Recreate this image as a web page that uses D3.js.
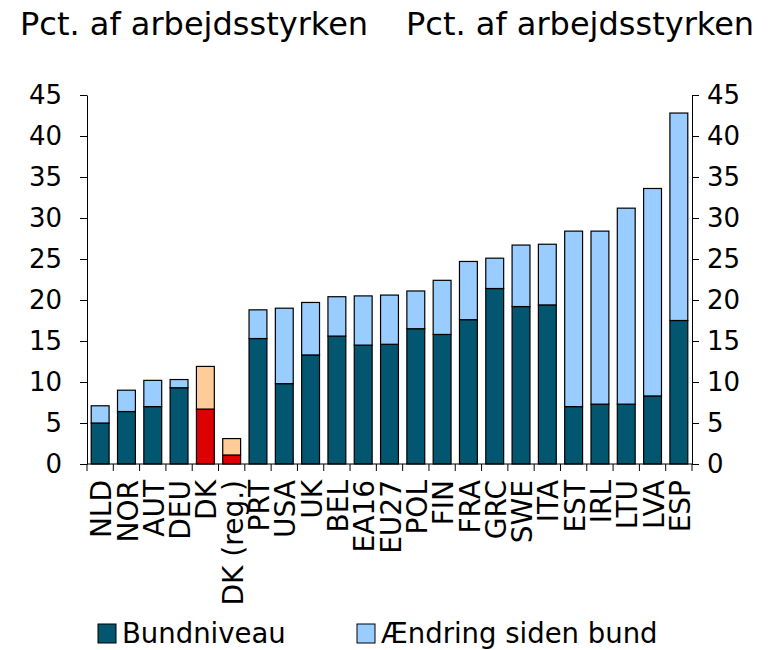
<!DOCTYPE html>
<html>
<head>
<meta charset="utf-8">
<script src="https://cdn.jsdelivr.net/npm/d3@7"></script>
<style>
  body { margin: 0; background: #fff; }
  svg { display: block; font-family: "DejaVu Sans", Verdana, sans-serif; }
</style>
</head>
<body>
<div id="chart"></div>
<script>
// categories and values
const categories = ["NLD", "NOR", "AUT", "DEU", "DK", "DK (reg.)", "PRT", "USA", "UK", "BEL",
    "EA16", "EU27", "POL", "FIN", "FRA", "GRC", "SWE", "ITA", "EST", "IRL", "LTU", "LVA", "ESP"];
const bundniveau = [5.0, 6.4, 7.0, 9.3, 6.7, 1.1, 15.3, 9.8, 13.3, 15.6,
    14.5, 14.6, 16.5, 15.8, 17.6, 21.4, 19.2, 19.4, 7.0, 7.3, 7.3, 8.3, 17.5];
const aendring = [2.1, 2.6, 3.2, 1.0, 5.2, 2.0, 3.5, 9.2, 6.4, 4.8,
    6.0, 6.0, 4.6, 6.6, 7.1, 3.7, 7.5, 7.4, 21.4, 21.1, 23.9, 25.3, 25.3];
const yTicks = [0, 5, 10, 15, 20, 25, 30, 35, 40, 45];
const highlighted = ["DK", "DK (reg.)"];

const width = 771;
const height = 650;
const marginLeft = 87;
const plotRight = 692;
const plotTop = 95;
const plotBottom = 464;

const colors = {
    bund: "#02566F",
    aendring: "#99CCFF",
    bundDK: "#DD0000",
    aendringDK: "#FFCC99"
};

const rows = categories.map((c, i) => ({ cat: c, bund: bundniveau[i], aendring: aendring[i] }));
const series = d3.stack().keys(["bund", "aendring"])(rows);

const x = d3.scaleBand()
    .domain(categories)
    .range([marginLeft, plotRight])
    .paddingInner(0.32)
    .paddingOuter(0.16);

const y = d3.scaleLinear()
    .domain([0, 45])
    .range([plotBottom, plotTop]);

const svg = d3.select("#chart").append("svg")
    .attr("width", width)
    .attr("height", height);

// titles over both axes
svg.append("text")
    .attr("x", 20).attr("y", 35)
    .attr("font-size", 32)
    .text("Pct. af arbejdsstyrken");
svg.append("text")
    .attr("x", 406).attr("y", 35)
    .attr("font-size", 32)
    .text("Pct. af arbejdsstyrken");

// bars
svg.append("g")
    .selectAll("g")
    .data(series)
    .join("g")
    .selectAll("rect")
    .data(s => s.map(d => ({ key: s.key, d })))
    .join("rect")
    .attr("x", o => x(o.d.data.cat))
    .attr("y", o => y(o.d[1]))
    .attr("width", x.bandwidth())
    .attr("height", o => y(o.d[0]) - y(o.d[1]))
    .attr("fill", o => {
        const dk = highlighted.includes(o.d.data.cat);
        if (o.key === "bund") return dk ? colors.bundDK : colors.bund;
        return dk ? colors.aendringDK : colors.aendring;
    })
    .attr("stroke", "#000")
    .attr("stroke-width", 1.2);

// left axis
const yLeft = svg.append("g")
    .attr("transform", `translate(${marginLeft},0)`)
    .call(d3.axisLeft(y).tickValues(yTicks).tickSize(7).tickPadding(18).tickSizeOuter(0));

// right axis
const yRight = svg.append("g")
    .attr("transform", `translate(${plotRight},0)`)
    .call(d3.axisRight(y).tickValues(yTicks).tickSize(7).tickPadding(8).tickSizeOuter(0));

[yLeft, yRight].forEach(g => {
    g.selectAll("text").attr("font-size", 26).attr("fill", "#000").attr("font-family", "DejaVu Sans");
    g.selectAll("line").attr("stroke", "#000");
    g.select(".domain").attr("stroke", "#000");
});

// x axis line with ticks between categories
const xAxis = svg.append("g");
xAxis.append("line")
    .attr("x1", marginLeft).attr("x2", plotRight)
    .attr("y1", plotBottom).attr("y2", plotBottom)
    .attr("stroke", "#000");
const step = x.step();
xAxis.selectAll("line.tick")
    .data(d3.range(categories.length + 1))
    .join("line")
    .attr("class", "tick")
    .attr("x1", i => marginLeft + i * step)
    .attr("x2", i => marginLeft + i * step)
    .attr("y1", plotBottom)
    .attr("y2", plotBottom + 7)
    .attr("stroke", "#000");

xAxis.selectAll("text")
    .data(categories)
    .join("text")
    .attr("transform", d => `translate(${x(d) + x.bandwidth() / 2 + 1},${plotBottom + 16}) rotate(-90)`)
    .attr("text-anchor", "end")
    .attr("dy", "0.36em")
    .attr("font-size", 28)
    .text(d => d);

// legend
const legendItems = [
    { label: "Bundniveau", color: colors.bund, x: 98 },
    { label: "Ændring siden bund", color: colors.aendring, x: 357 }
];
const legend = svg.append("g");
legendItems.forEach(item => {
    legend.append("rect")
        .attr("x", item.x).attr("y", 624)
        .attr("width", 18).attr("height", 19)
        .attr("fill", item.color)
        .attr("stroke", "#000");
    legend.append("text")
        .attr("x", item.x + 24).attr("y", 643)
        .attr("font-size", 27.5)
        .text(item.label);
});
</script>
</body>
</html>
